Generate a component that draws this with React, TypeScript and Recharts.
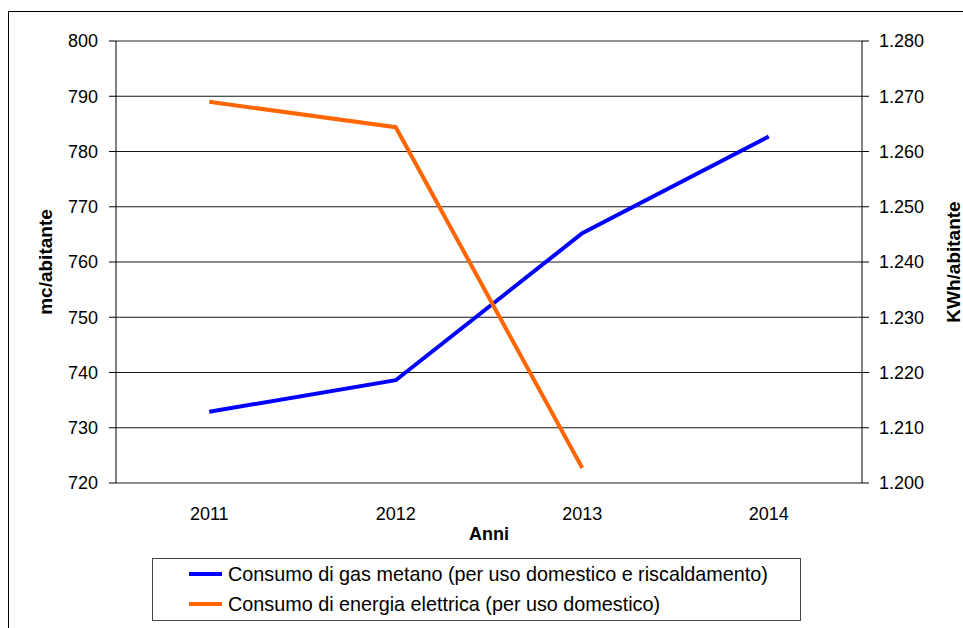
import React from 'react';
import { LineChart, Line, XAxis, YAxis, CartesianGrid, Legend, ReferenceLine } from 'recharts';

const years = [2011, 2012, 2013, 2014];
const gasValues = [732.9, 738.6, 765.2, 782.7];
const elecValues: (number | null)[] = [1269.0, 1264.4, 1202.7, null];
const leftTicks = [720, 730, 740, 750, 760, 770, 780, 790, 800];
const rightTicks = [1200, 1210, 1220, 1230, 1240, 1250, 1260, 1270, 1280];
const boundaryTicks = [2010.5, 2011.5, 2012.5, 2013.5, 2014.5];
const gasName = 'Consumo di gas metano (per uso domestico e riscaldamento)';
const elecName = 'Consumo di energia elettrica (per uso domestico)';

const data = years.map((y, i) => ({ year: y, gas: gasValues[i], elec: elecValues[i] }));

const FONT = '"Liberation Sans", Arial, sans-serif';
const BLUE = '#0000FF';
const ORANGE = '#FF6600';

const fmtIt = (v: number) => `${Math.floor(v / 1000)}.${String(v % 1000).padStart(3, '0')}`;

const LeftLabel = (props: any) => {
  const vb = props.viewBox || {};
  const x = vb.x + 45;
  const y = vb.y + vb.height / 2;
  return (
    <text x={x} y={y} textAnchor="middle" dominantBaseline="central" transform={`rotate(-90 ${x} ${y})`}
      style={{ fontFamily: FONT, fontSize: 19, fontWeight: 'bold', fill: '#000' }}>mc/abitante</text>
  );
};
const RightLabel = (props: any) => {
  const vb = props.viewBox || {};
  const x = vb.x + 91;
  const y = vb.y + vb.height / 2;
  return (
    <text x={x} y={y} textAnchor="middle" dominantBaseline="central" transform={`rotate(-90 ${x} ${y})`}
      style={{ fontFamily: FONT, fontSize: 19, fontWeight: 'bold', fill: '#000' }}>KWh/abitante</text>
  );
};
const BottomLabel = (props: any) => {
  const vb = props.viewBox || {};
  const x = vb.x + vb.width / 2;
  const y = vb.y + 51;
  return (
    <text x={x} y={y} textAnchor="middle" dominantBaseline="central"
      style={{ fontFamily: FONT, fontSize: 18, fontWeight: 'bold', fill: '#000' }}>Anni</text>
  );
};

const LegendBox = () => {
  const rows = [
    { name: gasName, color: BLUE },
    { name: elecName, color: ORANGE },
  ];
  return (
    <div style={{ border: '1px solid #444', background: '#fff', width: 647, height: 61, boxSizing: 'content-box' }}>
      {rows.map((r) => (
        <div key={r.name} style={{ height: 30, display: 'flex', alignItems: 'center', fontFamily: FONT, fontSize: 19.8, color: '#000', whiteSpace: 'nowrap' }}>
          <span style={{ display: 'inline-block', width: 33, height: 4, background: r.color, marginLeft: 36, marginRight: 6 }} />
          <span>{r.name}</span>
        </div>
      ))}
    </div>
  );
};

export default function App() {
  return (
    <div style={{ position: 'absolute', left: 0, top: 0, width: 963, height: 628, background: '#fff', overflow: 'hidden' }}>
      <div style={{ position: 'absolute', left: 8, top: 11, width: 2000, height: 2000, borderLeft: '1px solid #000', borderTop: '1px solid #000', pointerEvents: 'none' }} />
      <LineChart width={963} height={628} data={data} margin={{ top: 41, right: 0, bottom: 0, left: 0 }}
        style={{ position: 'absolute', left: 0, top: 0 }}>
        <CartesianGrid yAxisId="left" xAxisId="marks" vertical={false} stroke="#000" strokeOpacity={0.9} />
        <XAxis xAxisId="marks" dataKey="year" type="number" domain={[2010.5, 2014.5]} ticks={boundaryTicks}
          height={0} tick={false} tickSize={7} stroke="#000" axisLine={{ stroke: '#000' }} allowDataOverflow interval={0} />
        <XAxis xAxisId="main" dataKey="year" type="number" domain={[2010.5, 2014.5]} ticks={years}
          height={145} tickLine={false} axisLine={false} tickSize={7} tickMargin={17} interval={0} allowDataOverflow
          tick={{ fill: '#000', fontSize: 18, fontFamily: FONT }} label={<BottomLabel />} />
        <YAxis yAxisId="left" orientation="left" width={116} domain={[720, 800]} ticks={leftTicks} interval={0}
          tickSize={7} tickMargin={11} stroke="#000" allowDataOverflow
          tick={{ fill: '#000', fontSize: 18, fontFamily: FONT }} label={<LeftLabel />} />
        <YAxis yAxisId="right" orientation="right" width={101} domain={[1200, 1280]} ticks={rightTicks} interval={0}
          tickSize={7} tickMargin={10} stroke="#000" allowDataOverflow tickFormatter={fmtIt}
          tick={{ fill: '#000', fontSize: 18, fontFamily: FONT }} label={<RightLabel />} />
        <ReferenceLine yAxisId="left" xAxisId="marks" y={800} stroke="#999" strokeWidth={1} />
        <Line xAxisId="main" yAxisId="left" dataKey="gas" name={gasName} stroke={BLUE} strokeWidth={4}
          dot={false} activeDot={false} isAnimationActive={false} type="linear" />
        <Line xAxisId="main" yAxisId="right" dataKey="elec" name={elecName} stroke={ORANGE} strokeWidth={4}
          dot={false} activeDot={false} isAnimationActive={false} type="linear" />
        <Legend layout="horizontal" verticalAlign="middle" align="center" content={<LegendBox />}
          wrapperStyle={{ position: 'absolute', left: 152, top: 558, width: 649, height: 63 }} />
      </LineChart>
    </div>
  );
}
